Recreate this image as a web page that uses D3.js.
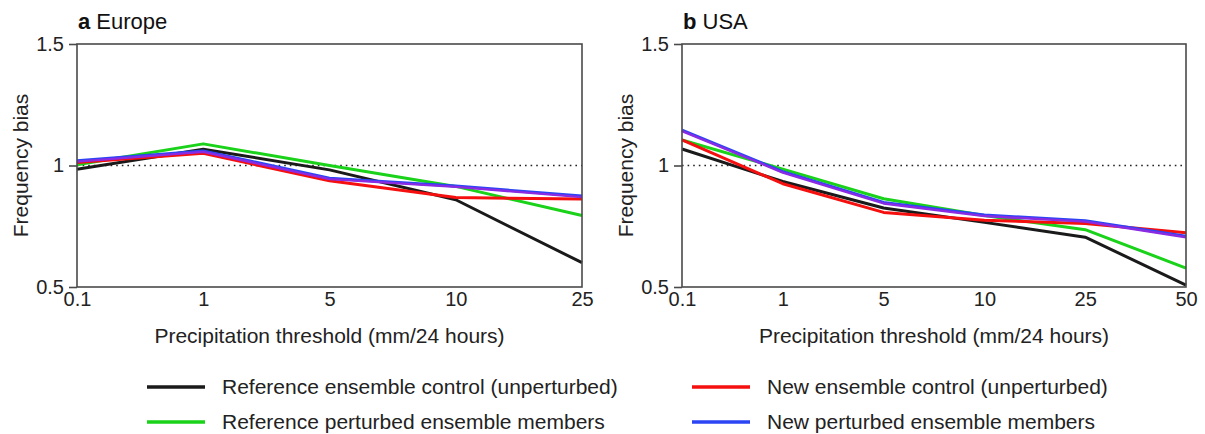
<!DOCTYPE html>
<html>
<head>
<meta charset="utf-8">
<title>Frequency bias</title>
<script src="https://d3js.org/d3.v7.min.js"></script>
<style>
  body { margin: 0; background: #fff; }
  svg { font-family: "Liberation Sans", Arial, Helvetica, sans-serif; }
</style>
</head>
<body>
<svg></svg>
<script>
// thresholds (mm/24 hours)
const europeThresholds = ['0.1', '1', '5', '10', '25'];
const usaThresholds = ['0.1', '1', '5', '10', '25', '50'];
const yTicks = [0.5, 1, 1.5];

// frequency bias
const europeRefControl = [0.985, 1.067, 0.982, 0.859, 0.600];
const europeRefPerturbed = [1.003, 1.089, 1.000, 0.914, 0.794];
const europeNewControl = [1.012, 1.050, 0.937, 0.868, 0.862];
const europeNewPerturbed = [1.020, 1.060, 0.948, 0.916, 0.874];

const usaRefControl = [1.068, 0.934, 0.825, 0.766, 0.705, 0.508];
const usaRefPerturbed = [1.105, 0.985, 0.863, 0.794, 0.736, 0.578];
const usaNewControl = [1.105, 0.925, 0.807, 0.775, 0.761, 0.723];
const usaNewPerturbed = [1.146, 0.975, 0.848, 0.796, 0.773, 0.709];

const seriesNames = [
  'Reference ensemble control (unperturbed)',
  'Reference perturbed ensemble members',
  'New ensemble control (unperturbed)',
  'New perturbed ensemble members'
];
const seriesColors = ['#1a1a1a', '#19d219', '#f50f0f', '#2b45f5'];

const width = 1205, height = 434;
const svg = d3.select('svg').attr('width', width).attr('height', height);

const plotTop = 44, plotBottom = 287;
const panels = [
  { letter: 'a', name: 'Europe', left: 77, right: 582, cats: europeThresholds,
    data: [europeRefControl, europeRefPerturbed, europeNewControl, europeNewPerturbed] },
  { letter: 'b', name: 'USA', left: 682, right: 1186, cats: usaThresholds,
    data: [usaRefControl, usaRefPerturbed, usaNewControl, usaNewPerturbed] }
];

const y = d3.scaleLinear().domain([0.5, 1.5]).range([plotBottom, plotTop]);

panels.forEach(p => {
  const g = svg.append('g');
  const x = d3.scalePoint().domain(p.cats).range([p.left, p.right]);

  // title
  const t = g.append('text').attr('x', p.left + 1).attr('y', 29).attr('font-size', 22).attr('fill', '#111');
  t.append('tspan').attr('font-weight', 'bold').text(p.letter + ' ');
  t.append('tspan').text(p.name);

  // reference line at 1
  g.append('line')
    .attr('x1', p.left).attr('x2', p.right)
    .attr('y1', y(1)).attr('y2', y(1))
    .attr('stroke', '#222').attr('stroke-width', 1.6)
    .attr('stroke-dasharray', '1.6,4');

  // series lines
  const line = d3.line().x((d, i) => x(p.cats[i])).y(d => y(d));
  p.data.forEach((vals, k) => {
    g.append('path').datum(vals)
      .attr('d', line)
      .attr('fill', 'none')
      .attr('stroke', seriesColors[k])
      .attr('stroke-width', 3)
      .attr('stroke-linejoin', 'round');
  });
  // the new perturbed members look purple where blue sits over red
  g.append('path').datum(p.data[3])
    .attr('d', line)
    .attr('transform', 'translate(0,1)')
    .attr('fill', 'none')
    .attr('stroke', '#8a2be2')
    .attr('stroke-width', 2.4)
    .attr('stroke-linejoin', 'round');

  // frame
  g.append('rect')
    .attr('x', p.left).attr('y', plotTop)
    .attr('width', p.right - p.left).attr('height', plotBottom - plotTop)
    .attr('fill', 'none').attr('stroke', '#4a4a4a').attr('stroke-width', 1.6);

  // y axis
  const yAxis = g.append('g').attr('transform', `translate(${p.left},0)`)
    .call(d3.axisLeft(y).tickValues(yTicks).tickFormat(d3.format('')).tickSize(8).tickPadding(5));
  yAxis.select('.domain').remove();
  yAxis.selectAll('line').attr('stroke', '#4a4a4a').attr('stroke-width', 1.6);
  yAxis.selectAll('text').attr('font-size', 20).attr('fill', '#222').attr('font-family', null);

  // x axis labels
  const xAxis = g.append('g').attr('transform', `translate(0,${plotBottom})`)
    .call(d3.axisBottom(x).tickSize(0).tickPadding(5));
  xAxis.select('.domain').remove();
  xAxis.selectAll('text').attr('font-size', 20).attr('fill', '#222').attr('font-family', null);

  g.append('text')
    .attr('x', (p.left + p.right) / 2).attr('y', 343)
    .attr('text-anchor', 'middle').attr('font-size', 21).attr('fill', '#222')
    .text('Precipitation threshold (mm/24 hours)');

  g.append('text')
    .attr('transform', `translate(${p.left - 49},${(plotTop + plotBottom) / 2}) rotate(-90)`)
    .attr('text-anchor', 'middle').attr('font-size', 21).attr('fill', '#222')
    .text('Frequency bias');
});

// legend
const legendPos = [[147, 387], [147, 422], [692, 387], [692, 422]];
seriesNames.forEach((name, k) => {
  const lg = svg.append('g').attr('transform', `translate(${legendPos[k][0]},${legendPos[k][1]})`);
  lg.append('line').attr('x1', 0).attr('x2', 58).attr('stroke', seriesColors[k]).attr('stroke-width', 3.5);
  lg.append('text').attr('x', 75).attr('y', 7).attr('font-size', 21).attr('fill', '#222').text(name);
});
</script>
</body>
</html>
